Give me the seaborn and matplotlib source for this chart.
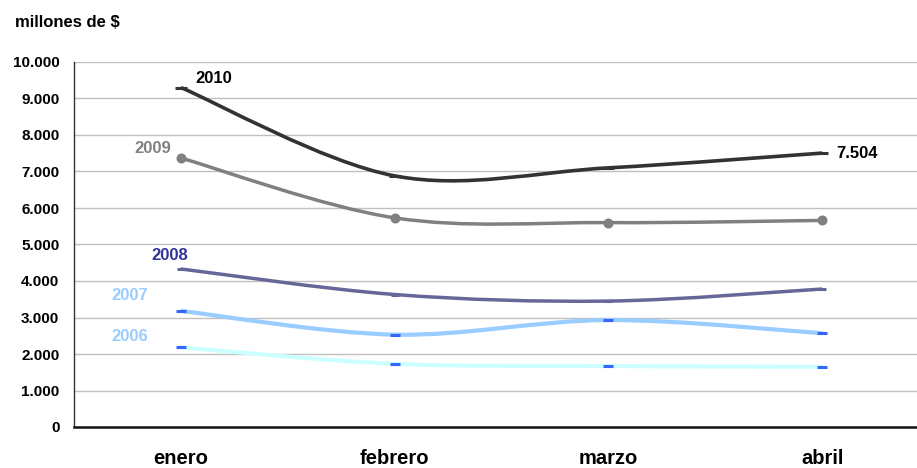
import numpy as np
import pandas as pd
import seaborn as sns
import matplotlib.pyplot as plt
from matplotlib.path import Path
from matplotlib.patches import PathPatch
from matplotlib.ticker import FuncFormatter, MultipleLocator, FixedLocator

# datos (millones de $)
meses = ["enero", "febrero", "marzo", "abril"]
anios = ["2006", "2007", "2008", "2009", "2010"]
v2006 = [2180, 1730, 1670, 1650]
v2007 = [3180, 2530, 2930, 2570]
v2008 = [4330, 3630, 3450, 3780]
v2009 = [7370, 5730, 5600, 5660]
v2010 = [9300, 6880, 7100, 7504]

series = {"2006": v2006, "2007": v2007, "2008": v2008, "2009": v2009, "2010": v2010}

sns.set_style("white")
plt.rcParams["font.family"] = ["Liberation Sans", "DejaVu Sans"]
plt.rcParams["font.weight"] = "bold"
plt.rcParams["text.color"] = "black"
plt.rcParams["xtick.color"] = "black"
plt.rcParams["ytick.color"] = "black"

# estilo de cada serie: color linea, ancho, marcador, tam, color marcador, color etiqueta
estilo = {
    "2006": dict(c="#CCFFFF", lw=3.0, m="_", ms=7, mc="#3366FF", tc="#99CCFF"),
    "2007": dict(c="#99CCFF", lw=3.0, m="_", ms=7, mc="#3366FF", tc="#99CCFF"),
    "2008": dict(c="#666699", lw=2.5, m="_", ms=6, mc="#666699", tc="#333399"),
    "2009": dict(c="#808080", lw=2.5, m="o", ms=5, mc="#808080", tc="#808080"),
    "2010": dict(c="#333333", lw=2.6, m="_", ms=9, mc="#333333", tc="#000000"),
}


def curva_suave(xs, ys):
    # linea suavizada tipo Excel (Catmull-Rom como Bezier cubica)
    pts = list(zip(xs, ys))
    n = len(pts)
    verts = [pts[0]]
    codes = [Path.MOVETO]
    for i in range(n - 1):
        p0 = pts[max(i - 1, 0)]
        p1 = pts[i]
        p2 = pts[i + 1]
        p3 = pts[min(i + 2, n - 1)]
        c1 = (p1[0] + (p2[0] - p0[0]) / 6, p1[1] + (p2[1] - p0[1]) / 6)
        c2 = (p2[0] - (p3[0] - p1[0]) / 6, p2[1] - (p3[1] - p1[1]) / 6)
        verts += [c1, c2, p2]
        codes += [Path.CURVE4] * 3
    return Path(verts, codes)


fig = plt.figure(figsize=(9.17, 4.68), dpi=100)
ax = fig.add_axes([74 / 917, 41 / 468, 855 / 917, 365 / 468])

for a in anios:
    e = estilo[a]
    vals = series[a]
    sns.lineplot(x=meses, y=vals, ax=ax, lw=0, marker=e["m"], markersize=e["ms"],
                 color=e["mc"], mec=e["mc"], mew=2.2, zorder=4)
    xs = np.arange(len(meses))
    ax.add_patch(PathPatch(curva_suave(xs, vals), facecolor="none", edgecolor=e["c"],
                           lw=e["lw"], capstyle="butt", joinstyle="round", zorder=3))

# etiquetas de las series
ax.text(0.07, 9560, "2010", color=estilo["2010"]["tc"], fontsize=12, fontweight="bold",
        ha="left", va="center")
ax.text(-0.13, 7620, "2009", color=estilo["2009"]["tc"], fontsize=12, fontweight="bold",
        ha="center", va="center")
ax.text(-0.05, 4710, "2008", color=estilo["2008"]["tc"], fontsize=12, fontweight="bold",
        ha="center", va="center")
ax.text(-0.24, 3590, "2007", color=estilo["2007"]["tc"], fontsize=12, fontweight="bold",
        ha="center", va="center")
ax.text(-0.24, 2470, "2006", color=estilo["2006"]["tc"], fontsize=12, fontweight="bold",
        ha="center", va="center")
ultimo = v2010[-1]
ax.text(3.065, ultimo, f"{ultimo:,.0f}".replace(",", "."), color="black", fontsize=12,
        fontweight="bold", ha="left", va="center")

fig.text(15 / 917, 1 - 27 / 468, "millones de $", fontsize=12, fontweight="bold",
         color="black", ha="left", va="baseline")

# ejes
ax.set_xlim(-0.5, 3.5)
ax.set_ylim(0, 10000)
ax.yaxis.set_major_locator(MultipleLocator(1000))
ax.yaxis.set_major_formatter(FuncFormatter(lambda v, p: f"{v:,.0f}".replace(",", ".")))
ax.grid(axis="y", color="#C0C0C0", lw=1, zorder=0)
ax.set_axisbelow(True)
ax.set_xlabel("")
ax.set_ylabel("")

ax.xaxis.set_minor_locator(FixedLocator([-0.5, 0.5, 1.5, 2.5]))
ax.tick_params(axis="x", which="major", length=0, pad=16, labelsize=14.5, labelcolor="black")
ax.tick_params(axis="x", which="minor", length=5, width=1, color="#333333", direction="out")
ax.tick_params(axis="y", length=4.5, width=1, color="#333333", direction="out", pad=6,
               labelsize=11, labelcolor="black")
for lab in ax.get_xticklabels() + ax.get_yticklabels():
    lab.set_fontweight("bold")

for s in ["top", "right"]:
    ax.spines[s].set_visible(False)
ax.spines["left"].set_color("#333333")
ax.spines["left"].set_linewidth(1)
ax.spines["bottom"].set_color("#111111")
ax.spines["bottom"].set_linewidth(1.8)

fig.savefig("out.png", dpi=100)
